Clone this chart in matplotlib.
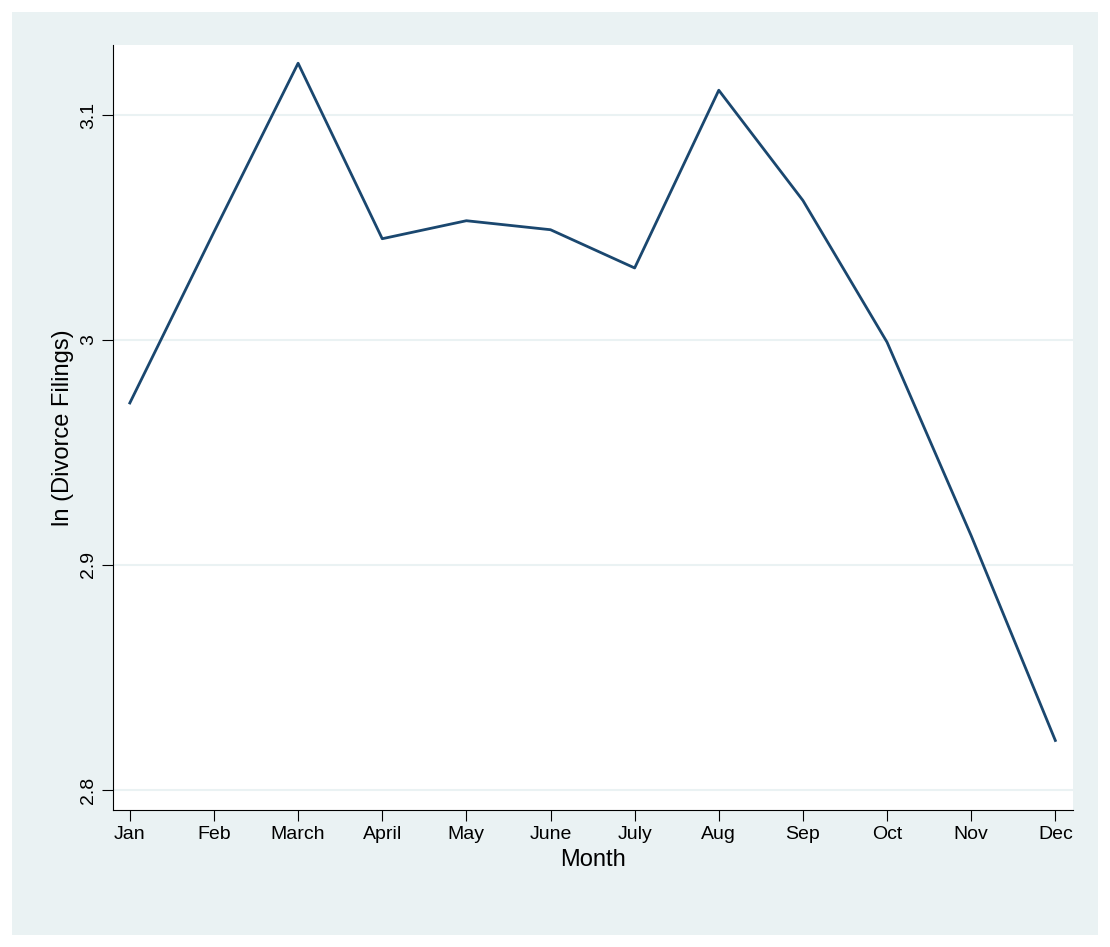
import matplotlib
matplotlib.use("Agg")
import matplotlib.pyplot as plt

months = ["Jan", "Feb", "March", "April", "May", "June", "July",
          "Aug", "Sep", "Oct", "Nov", "Dec"]
ln_filings = [2.972, 3.048, 3.123, 3.045, 3.053, 3.049, 3.032,
              3.111, 3.062, 2.999, 2.913, 2.822]
y_ticks = [2.8, 2.9, 3.0, 3.1]
y_labels = ["2.8", "2.9", "3", "3.1"]

plt.rcParams["font.family"] = "Liberation Sans"

W, H = 1110, 947
fig = plt.figure(figsize=(W / 100, H / 100), dpi=100, facecolor="white")

# light Stata-style background panel behind the plot region
bg = fig.add_axes([12 / W, 12 / H, 1086 / W, 923 / H], zorder=-1)
bg.set_facecolor("#eaf2f3")
bg.set_xticks([])
bg.set_yticks([])
for s in bg.spines.values():
    s.set_visible(False)

ax = fig.add_axes([113 / W, 1 - 810 / H, 960 / W, 765 / H], zorder=1)
ax.set_facecolor("white")
x = list(range(len(months)))
ax.plot(x, ln_filings, color="#1a476f", linewidth=2)

ax.set_xlim(-0.2, 11.21)
ax.set_ylim(2.7911, 3.1311)
ax.set_xticks(x)
ax.set_xticklabels(months)
ax.set_yticks(y_ticks)
ax.set_yticklabels(y_labels, rotation=90, va="center")
ax.grid(axis="y", color="#eaf2f3", linewidth=1.5)
ax.set_axisbelow(True)
for s in ["top", "right"]:
    ax.spines[s].set_visible(False)
for s in ["left", "bottom"]:
    ax.spines[s].set_color("black")
ax.tick_params(axis="both", direction="out", length=8, labelsize=14, colors="black")
ax.set_xlabel("Month", fontsize=17)
ax.set_ylabel("ln (Divorce Filings)", fontsize=17)

fig.savefig("out.png", dpi=100, facecolor="white")
